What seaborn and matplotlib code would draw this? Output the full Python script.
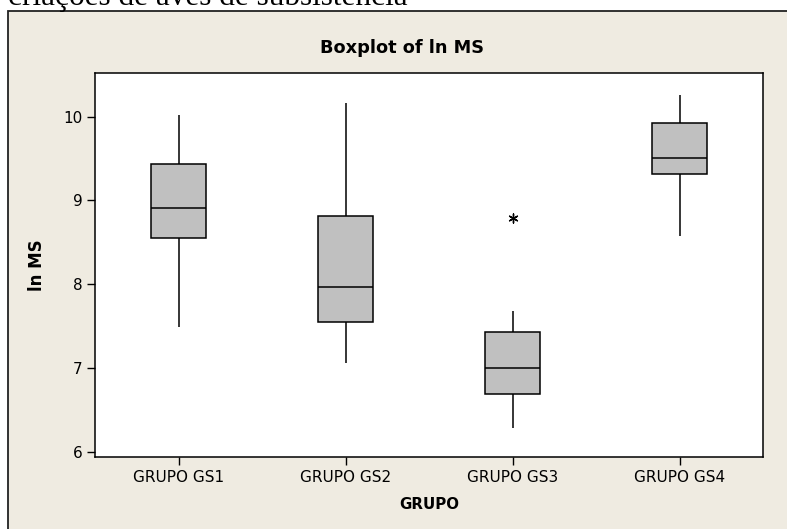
"""
Boxplot of ln MS por grupo (estilo Minitab)
"""

import pandas as pd
import matplotlib
matplotlib.use('Agg')
import matplotlib.pyplot as plt
from matplotlib.patches import Rectangle
import seaborn as sns

# Resumo de cinco numeros (min, Q1, mediana, Q3, max)
grupos = ['GRUPO GS1', 'GRUPO GS2', 'GRUPO GS3', 'GRUPO GS4']
minimo = [7.49, 7.06, 6.28, 8.58]
q1 = [8.55, 7.55, 6.69, 9.31]
mediana = [8.91, 7.97, 7.00, 9.51]
q3 = [9.43, 8.81, 7.43, 9.92]
maximo = [10.02, 10.16, 7.68, 10.26]

# Valores atipicos
outlier_grupo = ['GRUPO GS3']
outlier_valor = [8.79]

yticks = [6, 7, 8, 9, 10]

BEGE = '#EFEBE1'
CINZA = '#C0C0C0'

# com n=5 os quartis lineares caem exatamente nos valores
linhas = []
for g, a, b, c, d, e in zip(grupos, minimo, q1, mediana, q3, maximo):
    for v in (a, b, c, d, e):
        linhas.append({'GRUPO': g, 'ln MS': v})
df = pd.DataFrame(linhas)
df_out = pd.DataFrame({'GRUPO': outlier_grupo, 'ln MS': outlier_valor})

fig = plt.figure(figsize=(7.87, 5.29), dpi=100)
fig.patch.set_facecolor('white')

# painel bege com borda (topo e esquerda visiveis)
painel = Rectangle((8 / 787, -0.05), 1.2, (529 - 11) / 529 + 0.05,
                   transform=fig.transFigure, facecolor=BEGE,
                   edgecolor='#222222', linewidth=1.3, zorder=-10)
fig.patches.append(painel)

# resto do texto do documento, cortado no topo
fig.text(8 / 787, 1 - 5.5 / 529, 'criações de aves de subsistência',
         family='Liberation Serif', fontsize=22.5, ha='left', va='baseline',
         zorder=-5)

ax = fig.add_axes([95 / 787, (529 - 457) / 529, 668 / 787, 384 / 529])
ax.set_facecolor('white')

sns.boxplot(data=df, x='GRUPO', y='ln MS', order=grupos, ax=ax,
            color=CINZA, saturation=1, linecolor='black', linewidth=1.1,
            width=0.33, whis=1.5, showcaps=False, fliersize=0)

sns.stripplot(data=df_out, x='GRUPO', y='ln MS', order=grupos, ax=ax,
              jitter=False, marker=(6, 2, 0), size=6.5, color='black',
              linewidth=1)

ax.set_xlim(-0.5, 3.5)
ax.set_ylim(5.94, 10.52)
ax.set_yticks(yticks)

for s in ax.spines.values():
    s.set_color('black')
    s.set_linewidth(1.1)

ax.tick_params(axis='both', direction='out', length=6, width=1,
               color='black', labelsize=11, pad=3)

fig.text(402 / 787, 1 - 48 / 529, 'Boxplot of ln MS', fontsize=12.8,
         fontweight='bold', ha='center', va='center')

ax.set_xlabel('GRUPO', fontsize=10.8, fontweight='bold')
ax.set_ylabel('ln MS', fontsize=12, fontweight='bold')
ax.xaxis.set_label_coords(0.5, -(497 - 457) / 384)
ax.yaxis.set_label_coords((46 - 95) / 668, 0.5)

fig.savefig('out.png', dpi=100, facecolor=fig.get_facecolor())
